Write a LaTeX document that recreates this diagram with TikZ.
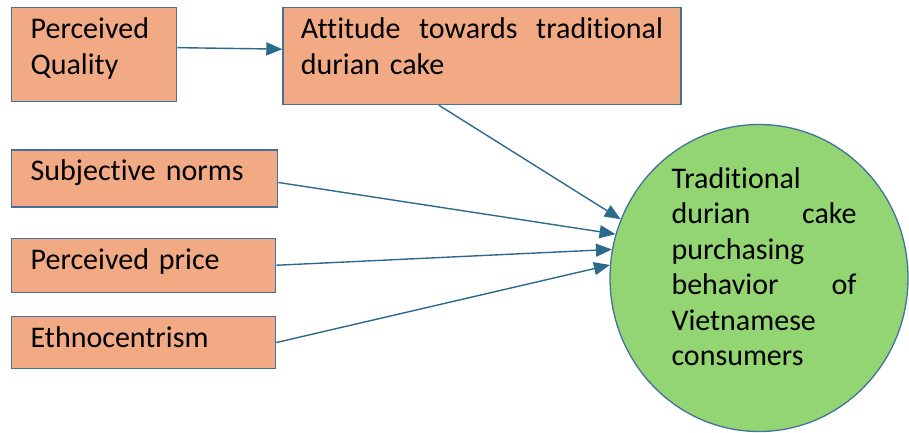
\documentclass[tikz,border=0pt]{standalone}
\usepackage{fontspec}
\setmainfont{Carlito}[Ligatures=NoCommon]
\usepackage{tikz}
\usetikzlibrary{positioning, arrows.meta, shapes.geometric}

\definecolor{boxfill}{HTML}{F2AA84}
\definecolor{boxline}{HTML}{41719C}
\definecolor{linkcol}{HTML}{2B6A8C}
\definecolor{circfill}{HTML}{92D572}

\begin{document}
\begin{tikzpicture}[x=1pt, y=-1pt,
    factor/.style={draw=boxline, line width=1.3pt, fill=boxfill, align=left,
      inner xsep=19pt, inner ysep=0pt, text height=31pt, anchor=north west,
      font=\fontsize{30}{35.5}\selectfont},
    outcome/.style={ellipse, draw=boxline, line width=1.3pt, fill=circfill,
      minimum width=298pt, minimum height=307pt, inner sep=0pt,
      text width=195pt, text height=10pt, text depth=190pt,
      font=\fontsize{30}{35.5}\selectfont},
    link/.style={->, >={Triangle[length=16pt, width=13pt]}, color=linkcol, line width=1.4pt}]
   \useasboundingbox (0,0) rectangle (909,433);

   % Factors
   \node[factor, text width=127pt, text depth=63pt] (quality) at (11,7) {Perceived Quality};
   \node[factor, text width=362pt, inner xsep=18pt, text depth=66pt,
     right=105pt of quality.north east, anchor=north west] (attitude)
     {Attitude\hfill towards\hfill traditional\linebreak durian cake};
   \node[factor, text width=228pt, text depth=26pt,
     below=47pt of quality.south west, anchor=north west] (subjective) {Subjective norms};
   \node[factor, text width=226pt, text depth=23pt,
     below=30pt of subjective.south west, anchor=north west] (price) {Perceived price};
   \node[factor, text width=226pt, text depth=21pt,
     below=23pt of price.south west, anchor=north west] (ethno) {Ethnocentrism};

   % Outcome
   \node[outcome] (behavior) at (759,278)
     {\leftskip=10pt\noindent Traditional\\ durian\hfill cake\linebreak purchasing\\
      behavior\hfill of\linebreak Vietnamese\\ consumers\par};

   % Paths
   \path[link]
    ([yshift=7pt]quality.east) edge ([yshift=7pt]attitude.west)
    ([xshift=-43pt]attitude.south) edge (behavior.157)
    ([yshift=-4pt]subjective.east) edge (behavior.163)
    (price.east) edge (behavior.169)
    (ethno.east) edge (behavior.175);
\end{tikzpicture}
\end{document}
